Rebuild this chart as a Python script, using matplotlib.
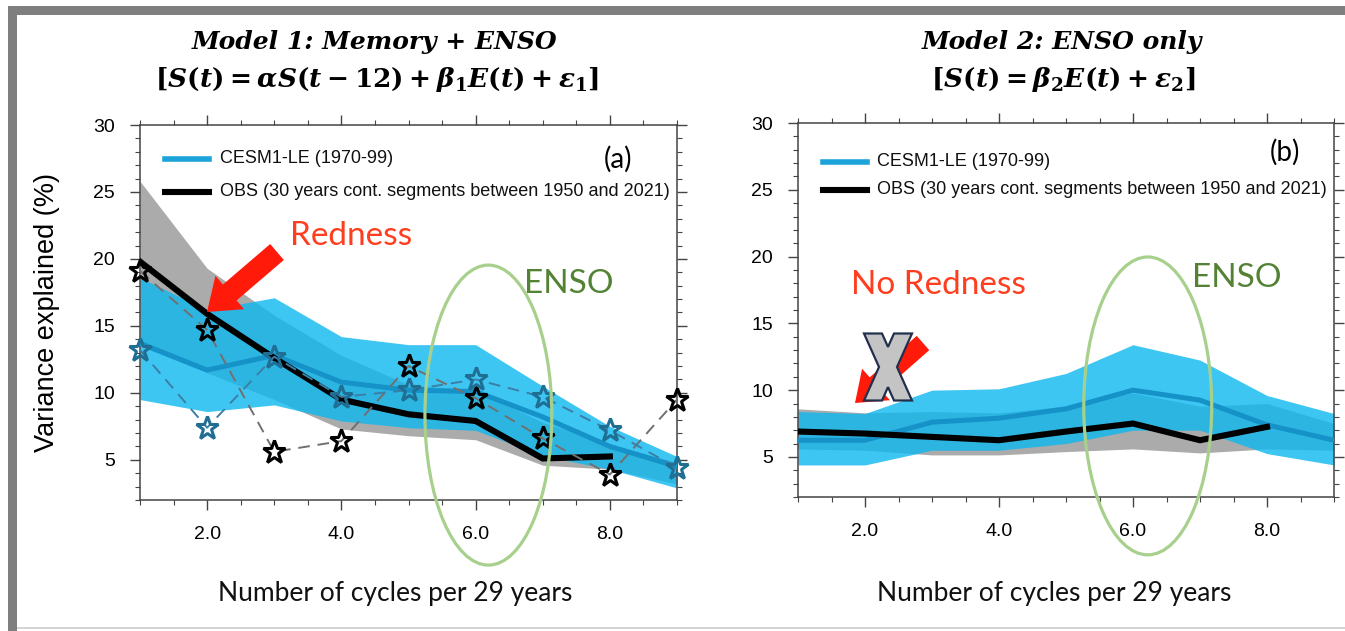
import matplotlib
matplotlib.use("Agg")
import matplotlib.pyplot as plt
from matplotlib.patches import Ellipse, FancyArrow, Polygon, Rectangle
from matplotlib.lines import Line2D
from matplotlib.ticker import MultipleLocator, FixedLocator, FormatStrFormatter

W, H, DPI = 1345, 631, 100

cycles = [1, 2, 3, 4, 5, 6, 7, 8, 9]
obs_cycles = [1, 2, 3, 4, 5, 6, 7, 8]
x_ticks = [2, 4, 6, 8]

# Model 1: memory + ENSO
m1_cesm_mean = [13.7, 11.7, 12.8, 10.8, 10.2, 10.1, 8.2, 6.0, 4.5]
m1_cesm_hi = [18.6, 16.2, 17.1, 14.2, 13.6, 13.6, 10.5, 7.5, 5.25]
m1_cesm_lo = [9.5, 8.6, 9.1, 7.9, 7.4, 7.2, 5.3, 4.3, 2.9]
m1_obs_mean = [19.8, 15.9, 12.6, 9.5, 8.4, 7.9, 5.1, 5.25]
m1_obs_hi = [25.8, 19.3, 15.8, 12.8, 10.6, 10.2, 7.8, 6.2, 4.8]
m1_obs_lo = [13.5, 11.5, 9.5, 7.3, 6.8, 6.5, 4.6, 4.3, 3.2]
m1_obs_member = [19.1, 14.7, 5.6, 6.4, 12.0, 9.6, 6.6, 3.9, 9.5]
m1_cesm_member = [13.2, 7.4, 12.7, 9.7, 10.2, 11.0, 9.7, 7.2, 4.4]

# Model 2: ENSO only
m2_cesm_mean = [6.25, 6.25, 7.6, 7.9, 8.6, 10.0, 9.25, 7.4, 6.25]
m2_cesm_hi = [8.4, 8.25, 10.0, 10.1, 11.25, 13.4, 12.25, 9.6, 8.25]
m2_cesm_lo = [4.4, 4.4, 5.5, 5.5, 6.0, 7.0, 7.0, 5.25, 4.4]
m2_obs_mean = [6.9, 6.75, 6.5, 6.25, 6.9, 7.5, 6.25, 7.25]
m2_obs_hi = [8.6, 8.3, 8.4, 8.3, 8.8, 9.8, 8.8, 9.0, 7.5]
m2_obs_lo = [5.6, 5.5, 5.15, 5.15, 5.4, 5.6, 5.3, 5.6, 5.5]

legend_labels = ["CESM1-LE (1970-99)",
                 "OBS (30 years cont. segments between 1950 and 2021)"]

BAND_GRAY = "#ababab"
BAND_BLUE = (0.055, 0.72, 0.94)
MEAN_BLUE = "#1592c8"
LEG_BLUE = "#1ba3da"
STAR_BLUE = "#1f6f94"
RED = "#ff1a0a"
TXT_RED = "#ff3d1f"
ENSO_GREEN = "#548235"
ELL_GREEN = "#a8d08d"

plt.rcParams["font.family"] = ["Liberation Sans", "DejaVu Sans"]
plt.rcParams["mathtext.fontset"] = "custom"
plt.rcParams["mathtext.it"] = "DejaVu Serif:italic:bold"
plt.rcParams["mathtext.rm"] = "DejaVu Serif:bold"
plt.rcParams["mathtext.bf"] = "DejaVu Serif:bold"

fig = plt.figure(figsize=(W / DPI, H / DPI), dpi=DPI)
fig.patch.set_facecolor("white")


def fx(px):
    return px / W


def fy(py):
    return 1 - py / H


def inch(px, py):
    return px / DPI, (H - py) / DPI


def setup_axes(ax):
    ax.set_xlim(1, 9)
    ax.set_ylim(2, 30)
    ax.xaxis.set_major_locator(FixedLocator(x_ticks))
    ax.xaxis.set_minor_locator(MultipleLocator(0.5))
    ax.yaxis.set_major_locator(MultipleLocator(5))
    ax.yaxis.set_minor_locator(MultipleLocator(1))
    ax.xaxis.set_major_formatter(FormatStrFormatter("%.1f"))
    ax.yaxis.set_major_formatter(FormatStrFormatter("%d"))
    ax.tick_params(which="both", direction="out", top=True, right=True,
                   labeltop=False, labelright=False, color="#444444")
    ax.tick_params(which="major", length=7, width=1.0, labelsize=14)
    ax.tick_params(which="minor", length=3.5, width=0.8)
    ax.tick_params(axis="y", which="major", pad=11)
    ax.tick_params(axis="x", which="major", pad=12)
    for s in ax.spines.values():
        s.set_color("#444444")
        s.set_linewidth(1.1)


def draw_panel(ax, cesm_mean, cesm_hi, cesm_lo, obs_mean, obs_hi, obs_lo):
    ax.fill_between(cycles, obs_lo, obs_hi, color=BAND_GRAY, lw=0, zorder=1)
    ax.fill_between(cycles, cesm_lo, cesm_hi, color=BAND_BLUE, alpha=0.8,
                    lw=0, zorder=2)
    ax.plot(cycles, cesm_mean, color=MEAN_BLUE, lw=3.6, zorder=3,
            solid_joinstyle="miter")
    ax.plot(obs_cycles, obs_mean, color="black", lw=4.4, zorder=4,
            solid_joinstyle="miter")


def draw_legend(x0, x1, xt, y1, y2):
    fig.add_artist(Line2D([fx(x0), fx(x1)], [fy(y1), fy(y1)], color=LEG_BLUE,
                          lw=4, transform=fig.transFigure))
    fig.add_artist(Line2D([fx(x0), fx(x1)], [fy(y2), fy(y2)], color="black",
                          lw=4.4, transform=fig.transFigure))
    fig.text(fx(xt), fy(y1), legend_labels[0], fontsize=13, va="center",
             ha="left", color="#111111")
    fig.text(fx(xt), fy(y2), legend_labels[1], fontsize=13, va="center",
             ha="left", color="#111111")


axA = fig.add_axes([fx(140), fy(500), (677 - 140) / W, (500 - 125) / H])
axB = fig.add_axes([fx(798), fy(497), (1334 - 798) / W, (497 - 123) / H])

for ax in (axA, axB):
    setup_axes(ax)

# Panel (a)
draw_panel(axA, m1_cesm_mean, m1_cesm_hi, m1_cesm_lo,
           m1_obs_mean, m1_obs_hi, m1_obs_lo)
axA.plot(cycles, m1_obs_member, color="#707070", lw=1.4, ls=(0, (6, 4)),
         zorder=5)
axA.plot(cycles, m1_cesm_member, color="#3b7fa6", lw=1.4, ls=(0, (6, 4)),
         zorder=5)
axA.plot(cycles, m1_obs_member, ls="none", marker="*", ms=17, mfc="none",
         mec="black", mew=2.2, zorder=6, clip_on=False)
axA.plot(cycles, m1_cesm_member, ls="none", marker="*", ms=17, mfc="none",
         mec=STAR_BLUE, mew=2.2, zorder=6, clip_on=False)
axA.set_ylabel("Variance explained (%)", fontsize=19.5, labelpad=24)
axA.add_patch(Ellipse((6.19, 8.34), 1.89, 22.4, fill=False,
                      edgecolor=ELL_GREEN, lw=2.3, clip_on=False, zorder=8))

# Panel (b)
draw_panel(axB, m2_cesm_mean, m2_cesm_hi, m2_cesm_lo,
           m2_obs_mean, m2_obs_hi, m2_obs_lo)
axB.add_patch(Ellipse((6.22, 8.82), 1.91, 22.3, fill=False,
                      edgecolor=ELL_GREEN, lw=2.3, clip_on=False, zorder=8))

draw_legend(165, 209, 220, 159, 192)
draw_legend(823, 867, 877, 162, 190)

# Axis labels below the panels
for cx in (395, 1054):
    fig.text(fx(cx), fy(593), "Number of cycles per 29 years", fontsize=19,
             family=["Lato", "DejaVu Sans"], ha="center", va="center",
             color="#111111")

# Annotations
ann = dict(family=["Lato", "DejaVu Sans"], ha="center", va="center")
fig.text(fx(351), fy(236), "Redness", fontsize=24, color=TXT_RED, **ann)
fig.text(fx(569), fy(284), "ENSO", fontsize=24, color=ENSO_GREEN, **ann)
fig.text(fx(618), fy(159), "(a)", fontsize=20, color="black", **ann)
fig.text(fx(938), fy(285), "No Redness", fontsize=24, color=TXT_RED, **ann)
fig.text(fx(1237), fy(278), "ENSO", fontsize=24, color=ENSO_GREEN, **ann)
fig.text(fx(1285), fy(152), "(b)", fontsize=20, color="black", **ann)


def red_arrow(tail, tip, shaft, head_w, head_l):
    x0, y0 = inch(*tail)
    x1, y1 = inch(*tip)
    arr = FancyArrow(x0, y0, x1 - x0, y1 - y0, width=shaft / DPI,
                     head_width=head_w / DPI, head_length=head_l / DPI,
                     length_includes_head=True, color=RED, lw=0,
                     transform=fig.dpi_scale_trans, zorder=20)
    fig.add_artist(arr)


red_arrow((277, 252), (207, 312), 21, 44, 30)
red_arrow((923, 343), (855, 403), 19, 42, 28)

# Crossed-out mark over the arrow in panel (b)
cx, cy = 888, 367
a, b, c = 24, 33.5, 9
d = b * c / (a - c)
pts = [(-a, b), (-a + 2 * c, b), (0, d), (a - 2 * c, b), (a, b), (c, 0),
       (a, -b), (a - 2 * c, -b), (0, -d), (-a + 2 * c, -b), (-a, -b), (-c, 0)]
xpoly = Polygon([inch(cx + px, cy - py) for px, py in pts], closed=True,
                facecolor="#c4c4c4", edgecolor="#22304d", lw=1.6,
                transform=fig.dpi_scale_trans, zorder=21)
fig.add_artist(xpoly)

# Titles
serif_bi = dict(family="DejaVu Serif", style="italic", weight="bold",
                ha="center", va="center", color="black")
fig.text(fx(375), fy(42), "Model 1: Memory + ENSO", fontsize=18, **serif_bi)
fig.text(fx(1062), fy(42), "Model 2: ENSO only", fontsize=18, **serif_bi)
tkw = dict(ha="center", va="center", color="black")
fig.text(fx(377), fy(79),
         r"$\mathrm{[}\mathit{S}\mathrm{(}\mathit{t}\mathrm{)} = \mathit{\alpha S}\mathrm{(}\mathit{t}-\mathrm{12)} + \mathit{\beta}_{\mathrm{1}}\mathit{E}\mathrm{(}\mathit{t}\mathrm{)} + \mathit{\varepsilon}_{\mathrm{1}}\mathrm{]}$",
         fontsize=19, **tkw)
fig.text(fx(1063), fy(79),
         r"$\mathrm{[}\mathit{S}\mathrm{(}\mathit{t}\mathrm{)} = \mathit{\beta}_{\mathrm{2}}\mathit{E}\mathrm{(}\mathit{t}\mathrm{)} + \mathit{\varepsilon}_{\mathrm{2}}\mathrm{]}$",
         fontsize=19, **tkw)

# Outer frame
fig.add_artist(Rectangle((fx(8), fy(15)), 1 - fx(8), 9 / H, color="#7f7f7f",
                         transform=fig.transFigure, lw=0, zorder=30))
fig.add_artist(Rectangle((fx(8), 0), 9 / W, fy(6), color="#7f7f7f",
                         transform=fig.transFigure, lw=0, zorder=30))
fig.add_artist(Rectangle((fx(17), fy(629)), 1 - fx(17), 2 / H, color="#d4d4d4",
                         transform=fig.transFigure, lw=0, zorder=30))

fig.savefig("out.png", dpi=DPI, facecolor="white")
